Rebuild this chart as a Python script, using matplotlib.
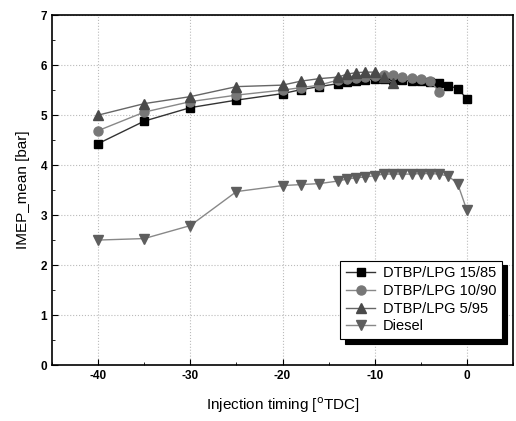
import matplotlib.pyplot as plt
from matplotlib.ticker import MultipleLocator

plt.rcParams['font.family'] = ['Liberation Sans', 'DejaVu Sans']
plt.rcParams['axes.unicode_minus'] = False

# injection timing [deg TDC]
t_full = [-40, -35, -30, -25, -20, -18, -16, -14, -13, -12, -11, -10,
          -9, -8, -7, -6, -5, -4, -3, -2, -1, 0]
t_1090 = t_full[:19]   # up to -3
t_595 = t_full[:14]    # up to -8

imep_1585 = [4.43, 4.88, 5.15, 5.30, 5.43, 5.51, 5.57, 5.63, 5.66, 5.68, 5.71, 5.72,
             5.72, 5.71, 5.70, 5.68, 5.68, 5.67, 5.65, 5.59, 5.53, 5.33]
imep_1090 = [4.69, 5.06, 5.27, 5.40, 5.50, 5.55, 5.60, 5.70, 5.72, 5.75, 5.77, 5.78,
             5.81, 5.80, 5.77, 5.75, 5.72, 5.68, 5.47]
imep_595 = [5.00, 5.23, 5.37, 5.57, 5.60, 5.68, 5.73, 5.76, 5.82, 5.85, 5.86, 5.86,
            5.76, 5.64]
imep_diesel = [2.50, 2.53, 2.79, 3.47, 3.59, 3.61, 3.63, 3.68, 3.72, 3.75, 3.76, 3.79,
               3.82, 3.82, 3.82, 3.82, 3.83, 3.83, 3.82, 3.78, 3.63, 3.10]

fig = plt.figure(figsize=(5.16, 4.21), dpi=100)
ax = fig.add_axes([0.101, 0.133, 0.893, 0.831])

ax.plot(t_full, imep_1585, '-s', color='#333333', mfc='black', mec='black',
        ms=6, lw=1, label='DTBP/LPG 15/85')
ax.plot(t_1090, imep_1090, '-o', color='#888888', mfc='#777777', mec='#777777',
        ms=6.5, lw=1, label='DTBP/LPG 10/90')
ax.plot(t_595, imep_595, '-^', color='#666666', mfc='#4a4a4a', mec='#4a4a4a',
        ms=7, lw=1, label='DTBP/LPG 5/95')
ax.plot(t_full, imep_diesel, '-v', color='#888888', mfc='#5e5e5e', mec='#5e5e5e',
        ms=7, lw=1, label='Diesel')

ax.set_xlim(-45, 5)
ax.set_ylim(0, 7)
ax.xaxis.set_major_locator(MultipleLocator(10))
ax.xaxis.set_minor_locator(MultipleLocator(5))
ax.yaxis.set_major_locator(MultipleLocator(1))
ax.yaxis.set_minor_locator(MultipleLocator(0.5))
ax.tick_params(which='both', direction='in', top=False, right=False)
ax.tick_params(which='major', length=4, labelsize=8.5)
ax.tick_params(which='minor', length=2.5)
for lab in ax.get_xticklabels() + ax.get_yticklabels():
    lab.set_fontweight('bold')
ax.grid(True, which='major', ls=':', color='#bbbbbb', lw=0.8)
for s in ax.spines.values():
    s.set_linewidth(1.2)

ax.set_xlabel(r'Injection timing [$^{\rm o}$TDC]', fontsize=11, labelpad=10)
ax.set_ylabel('IMEP_mean [bar]', fontsize=11, labelpad=8)

leg = ax.legend(loc='lower right', bbox_to_anchor=(0.976, 0.074), fontsize=10.5,
                fancybox=False, framealpha=1, edgecolor='black',
                shadow={'color': 'black', 'alpha': 1, 'ox': 3.5, 'oy': -3.5},
                handlelength=2.0, borderpad=0.4, labelspacing=0.25,
                handletextpad=0.5, borderaxespad=0)
leg.get_frame().set_linewidth(0.8)

fig.savefig('out.png', dpi=100)
